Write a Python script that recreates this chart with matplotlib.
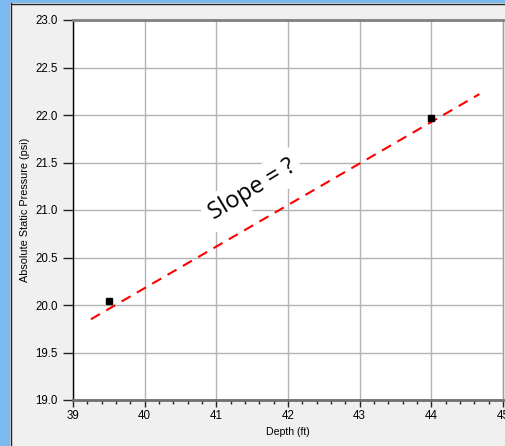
import matplotlib
matplotlib.use("Agg")
import matplotlib.pyplot as plt
from matplotlib.patches import Rectangle
from matplotlib.lines import Line2D
from matplotlib.ticker import MultipleLocator

# measured points
depth = [39.5, 44.0]
pressure = [20.04, 21.97]

# dashed trend line (ends)
line_x = [39.25, 44.67]
line_y = [19.85, 22.22]

x_ticks = [39, 40, 41, 42, 43, 44, 45]
y_ticks = [19.0, 19.5, 20.0, 20.5, 21.0, 21.5, 22.0, 22.5, 23.0]

plt.rcParams['font.family'] = ['Liberation Sans', 'DejaVu Sans']

fig = plt.figure(figsize=(5.06, 4.46), dpi=100, facecolor='#f0f0f0')

# window frame on the left / top
fig.patches.append(Rectangle((0, 0), 10 / 506, 1, transform=fig.transFigure,
                             facecolor='#7db9f1', edgecolor='none', zorder=0))
fig.patches.append(Rectangle((0, 1 - 3 / 446), 1, 3 / 446, transform=fig.transFigure,
                             facecolor='#7db9f1', edgecolor='none', zorder=0))
fig.lines.append(Line2D([10.5 / 506, 10.5 / 506], [0, 1 - 3 / 446], transform=fig.transFigure,
                        color='#222222', lw=1))
fig.lines.append(Line2D([10.5 / 506, 1], [1 - 3.5 / 446, 1 - 3.5 / 446], transform=fig.transFigure,
                        color='#222222', lw=1))

ax = fig.add_axes([73 / 506, 1 - 400 / 446, 430 / 506, 380 / 446])
ax.set_facecolor('white')

ax.plot(line_x, line_y, color='red', lw=1.5, ls=(0, (5, 3.5)), zorder=3)
ax.plot(depth, pressure, 's', color='black', ms=4.3, zorder=4)

ax.set_xlim(39, 45)
ax.set_ylim(19, 23)
ax.set_xticks(x_ticks)
ax.set_yticks(y_ticks)
ax.set_yticklabels([f'{v:.1f}' for v in y_ticks])
ax.xaxis.set_minor_locator(MultipleLocator(0.2))

ax.grid(True, which='major', color='#b4b4b4', lw=1)
ax.set_axisbelow(True)

ax.tick_params(axis='x', which='major', direction='out', length=5, width=1,
               color='#222222', labelsize=8.3, pad=2)
ax.tick_params(axis='x', which='minor', direction='out', length=3, width=1, color='#222222')
ax.tick_params(axis='y', which='major', direction='out', length=7, width=1,
               color='#222222', labelsize=8.3, pad=4)

ax.spines['left'].set_color('black')
ax.spines['left'].set_linewidth(1)
ax.spines['bottom'].set_color('#707070')
ax.spines['bottom'].set_linewidth(2)
ax.spines['top'].set_color('#808080')
ax.spines['top'].set_linewidth(2)
ax.spines['right'].set_color('#a0a0a0')
ax.spines['right'].set_linewidth(1)

ax.set_xlabel('Depth (ft)', fontsize=7.6, labelpad=4)
ax.set_ylabel('Absolute Static Pressure (psi)', fontsize=7.8, labelpad=4)

ax.text(41.5, 21.21, 'Slope = ?', rotation=31, ha='center', va='center',
        fontsize=17, family=['Open Sans', 'DejaVu Sans'], zorder=5,
        bbox=dict(facecolor='white', edgecolor='none', pad=4))

fig.savefig('out.png', dpi=100, facecolor=fig.get_facecolor())
